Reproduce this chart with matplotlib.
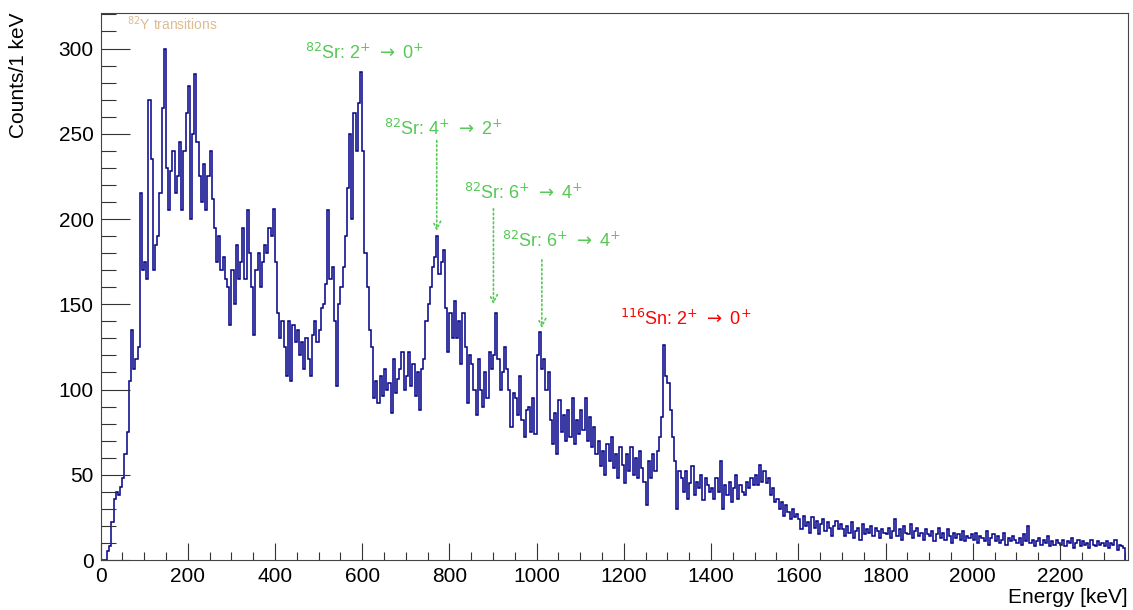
import numpy as np
import matplotlib
matplotlib.use('Agg')
import matplotlib.pyplot as plt
from matplotlib.ticker import MultipleLocator

plt.rcParams['font.family'] = ['Liberation Sans', 'DejaVu Sans']

# spectrum, 5 keV per bin (one row = 100 keV)
BIN_WIDTH = 5
counts = [
    0, 0, 0, 5, 8, 22, 36, 40, 38, 43, 48, 62, 75, 105, 135, 112, 118, 125, 215, 170,             # 0-100
    175, 165, 270, 235, 170, 185, 190, 215, 265, 300, 230, 205, 228, 240, 215, 225, 245, 205, 240, 262,  # 100-200
    278, 200, 250, 285, 245, 225, 210, 232, 205, 225, 240, 212, 195, 175, 190, 170, 178, 165, 160, 138,  # 200-300
    170, 150, 185, 165, 175, 195, 165, 205, 180, 160, 132, 170, 180, 160, 175, 185, 180, 195, 190, 206,  # 300-400
    175, 145, 130, 140, 125, 108, 140, 105, 138, 128, 135, 120, 128, 112, 130, 118, 108, 132, 140, 128,  # 400-500
    135, 148, 150, 162, 205, 165, 172, 140, 102, 150, 160, 172, 190, 218, 250, 200, 262, 240, 268, 286,  # 500-600
    240, 180, 160, 135, 125, 95, 105, 92, 108, 96, 112, 100, 104, 86, 118, 98, 106, 112, 122, 100,      # 600-700
    108, 122, 102, 115, 96, 110, 88, 112, 118, 140, 150, 160, 172, 178, 190, 168, 175, 182, 148, 122,   # 700-800
    145, 130, 152, 130, 140, 115, 145, 125, 92, 120, 115, 100, 85, 118, 100, 90, 110, 95, 122, 112,     # 800-900
    120, 145, 118, 100, 110, 125, 112, 100, 78, 98, 95, 85, 108, 82, 72, 88, 90, 75, 95, 74,           # 900-1000
    120, 134, 112, 118, 100, 110, 82, 68, 86, 62, 94, 75, 85, 70, 88, 72, 95, 68, 82, 74,              # 1000-1100
    88, 76, 95, 70, 84, 66, 78, 62, 70, 55, 64, 50, 68, 58, 72, 54, 62, 48, 66, 56,                    # 1100-1200
    45, 62, 52, 66, 50, 60, 48, 64, 54, 46, 32, 58, 48, 62, 52, 64, 72, 84, 126, 108,                  # 1200-1300
    104, 88, 72, 58, 30, 52, 48, 40, 52, 36, 45, 55, 38, 46, 42, 50, 35, 48, 44, 40,                   # 1300-1400
    42, 36, 48, 40, 58, 30, 44, 38, 46, 34, 42, 50, 36, 44, 40, 38, 46, 42, 48, 44,                    # 1400-1500
    50, 44, 56, 46, 52, 45, 48, 38, 42, 34, 36, 30, 34, 26, 32, 28, 24, 30, 25, 27,                    # 1500-1600
    24, 18, 26, 20, 22, 16, 25, 19, 23, 15, 21, 24, 17, 22, 19, 14, 20, 23, 18, 21,                    # 1600-1700
    18, 14, 20, 16, 22, 13, 17, 19, 12, 21, 15, 18, 16, 20, 14, 19, 17, 13, 18, 16,                    # 1700-1800
    15, 19, 13, 17, 24, 14, 18, 12, 20, 16, 15, 21, 13, 17, 19, 14, 16, 12, 18, 15,                    # 1800-1900
    14, 17, 11, 15, 19, 13, 16, 12, 18, 14, 10, 16, 13, 15, 12, 17, 11, 14, 13, 15,                    # 1900-2000
    12, 16, 10, 14, 13, 11, 17, 9, 13, 15, 11, 14, 10, 12, 16, 9, 13, 11, 14, 12,                      # 2000-2100
    10, 13, 9, 15, 11, 20, 10, 12, 8, 11, 13, 9, 12, 10, 14, 8, 11, 9, 12, 10,                         # 2100-2200
    9, 12, 8, 11, 10, 13, 7, 10, 12, 8, 11, 9, 10, 7, 12, 9, 8, 11, 9, 10,                             # 2200-2300
    8, 11, 7, 10, 9, 12, 6, 9, 8, 7,                                                                   # 2300-2350
]
edges = np.arange(len(counts) + 1) * BIN_WIDTH

# transition labels and the peaks they point at
sr_labels = [r'$^{82}$Sr: 2$^{+}\;\rightarrow\;$0$^{+}$',
             r'$^{82}$Sr: 4$^{+}\;\rightarrow\;$2$^{+}$',
             r'$^{82}$Sr: 6$^{+}\;\rightarrow\;$4$^{+}$',
             r'$^{82}$Sr: 6$^{+}\;\rightarrow\;$4$^{+}$']
arrow_energies = [771, 901, 1012]
sn_label = r'$^{116}$Sn: 2$^{+}\;\rightarrow\;$0$^{+}$'
y_label = r'$^{82}$Y transitions'

GREEN = '#55c855'
TAN = '#dcbc90'
RED = '#ff0000'
NAVY = '#000088'

fig = plt.figure(figsize=(11.33, 6.10), dpi=100)
ax = fig.add_axes([100.5/1133, 50/610, 1027.5/1133, 547.3/610])

ax.stairs(counts, edges, color=NAVY, lw=1.1)
ax.set_xlim(0, 2356)
ax.set_ylim(0, 321)

# ROOT-ish ticks: inside, long on y
ax.xaxis.set_major_locator(MultipleLocator(200))
ax.xaxis.set_minor_locator(MultipleLocator(50))
ax.yaxis.set_major_locator(MultipleLocator(50))
ax.yaxis.set_minor_locator(MultipleLocator(10))
ax.tick_params(axis='both', which='both', direction='in', color='#333333', width=0.8,
               labelsize=15, top=False, right=False)
ax.tick_params(axis='x', which='major', length=12, pad=5)
ax.tick_params(axis='x', which='minor', length=6)
ax.tick_params(axis='y', which='major', length=21, pad=5)
ax.tick_params(axis='y', which='minor', length=11)
for s in ax.spines.values():
    s.set_color('#444444')
    s.set_linewidth(0.8)

fig.text(1128/1133, (610-603)/610, 'Energy [keV]', ha='right', va='baseline', fontsize=15)
fig.text(19/1133, (610-13)/610, 'Counts/1 keV', ha='center', va='top', rotation=90, fontsize=15)

# annotations
ax.text(60, 311, y_label, color=TAN, fontsize=10, va='baseline')
ax.text(470, 294, sr_labels[0], color=GREEN, fontsize=13, va='baseline')
ax.text(650, 249.5, sr_labels[1], color=GREEN, fontsize=13, va='baseline')
ax.text(834, 212, sr_labels[2], color=GREEN, fontsize=13, va='baseline')
ax.text(920, 183.5, sr_labels[3], color=GREEN, fontsize=13, va='baseline')
ax.text(1191, 138, sn_label, color=RED, fontsize=13, va='baseline')

arrow_tops = [246, 206, 176]
arrow_bottoms = [193, 150, 136]
for e, y0, y1 in zip(arrow_energies, arrow_tops, arrow_bottoms):
    ax.annotate('', xy=(e, y1), xytext=(e, y0),
                arrowprops=dict(arrowstyle='->', color=GREEN, ls=':', lw=1.2,
                                shrinkA=0, shrinkB=0, mutation_scale=14))

fig.savefig('out.png', dpi=100)
